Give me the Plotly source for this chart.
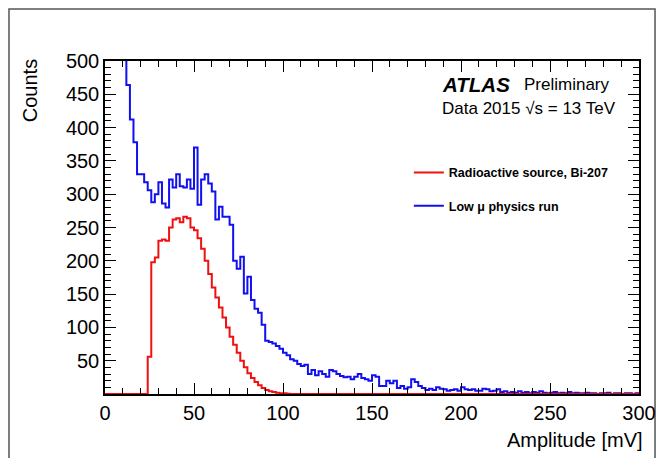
import numpy as np
import plotly.graph_objects as go

# Histogram binning (mV): 150 bins of 2 mV from 0 to 300
bin_width = 2
bin_low = np.arange(0, 300, bin_width)

# Low mu physics run (blue) - counts per bin
low_mu_counts = [
    2000, 1800, 1500, 1200, 900, 600, 464, 412, 378, 330,
    330, 318, 306, 288, 300, 318, 286, 280, 322, 310,
    330, 312, 310, 322, 308, 370, 284, 322, 330, 316,
    304, 262, 281, 266, 266, 254, 200, 188, 206, 151,
    176, 141, 128, 122, 104, 80, 78, 76, 72, 68,
    62, 58, 52, 50, 45, 42, 44, 30, 36, 28,
    34, 30, 26, 36, 34, 30, 27, 25, 26, 22,
    26, 30, 24, 22, 20, 28, 26, 12, 12, 20,
    16, 20, 9, 12, 8, 10, 22, 18, 12, 9,
    6, 8, 6, 10, 8, 7, 5, 6, 7, 5,
    10, 7, 6, 7, 5, 5, 8, 7, 4, 5,
    7, 3, 4, 2, 3, 2, 4, 2, 3, 1,
    3, 2, 4, 2, 1, 2, 3, 1, 2, 1,
    3, 1, 2, 1, 1, 2, 1, 1, 0, 1,
    1, 2, 0, 1, 1, 0, 1, 1, 0, 1,
]

# Radioactive source Bi-207 (red) - counts per bin
source_counts = [
    0, 0, 0, 0, 0, 0, 0, 0, 0, 0,
    0, 0, 56, 198, 205, 230, 232, 230, 250, 262,
    264, 258, 266, 264, 250, 246, 234, 218, 200, 180,
    160, 145, 130, 115, 100, 86, 74, 62, 50, 40,
    31, 24, 18, 13, 9, 6, 4, 3, 2, 1,
    1, 0.5,
] + [0] * 98

font = "Liberation Sans, Arial, Helvetica, sans-serif"


def step_xy(counts):
    # close the last bin so 'hv' draws its top edge
    x = list(bin_low) + [bin_low[-1] + bin_width]
    y = list(counts) + [counts[-1]]
    return x, y


fig = go.Figure()

x, y = step_xy(low_mu_counts)
fig.add_trace(go.Scatter(
    x=x, y=y, mode="lines", line_shape="hv",
    line=dict(color="#1010f0", width=2),
    name="<b>Low \u03bc physics run</b>",
    legendgroup="blue", legendrank=2,
))

x, y = step_xy(source_counts)
fig.add_trace(go.Scatter(
    x=x, y=y, mode="lines", line_shape="hv",
    line=dict(color="#f01010", width=2),
    name="<b>Radioactive source, Bi-207</b>",
    legendgroup="red", legendrank=1,
))

axis_common = dict(
    showline=True, linecolor="black", linewidth=1.5, mirror="ticks",
    ticks="inside", tickcolor="black", tickwidth=1, ticklen=11,
    showgrid=False, zeroline=False,
    ticklabeloverflow="allow", automargin=False,
    tickfont=dict(family=font, size=20, color="black"),
)

fig.update_xaxes(
    range=[0, 300], tick0=0, dtick=50,
    minor=dict(dtick=10, ticks="inside", ticklen=6, tickcolor="black"),
    **axis_common,
)
fig.update_yaxes(
    range=[0, 500], tick0=0, dtick=50,
    tickvals=list(range(50, 501, 50)),
    minor=dict(dtick=10, ticks="inside", ticklen=6, tickcolor="black"),
    **axis_common,
)

annotations = [
    dict(text="Counts", textangle=-90, x=-0.1404, y=1.01, xanchor="center", yanchor="top",
         font=dict(family=font, size=20, color="black")),
    dict(text="Amplitude [mV]", x=1.011, y=-0.138, xanchor="right", yanchor="middle",
         font=dict(family=font, size=20, color="black")),
    dict(text="<b><i>ATLAS</i></b>", x=0.627, y=0.930, xanchor="left", yanchor="middle",
         font=dict(family=font, size=20.5, color="black")),
    dict(text="Preliminary", x=0.781, y=0.930, xanchor="left", yanchor="middle",
         font=dict(family=font, size=17, color="black")),
    dict(text="Data 2015 \u221as = 13 TeV", x=0.627, y=0.858, xanchor="left", yanchor="middle",
         font=dict(family=font, size=17, color="black")),
]
for a in annotations:
    a.update(xref="paper", yref="paper", showarrow=False)

# the page body has an 8px margin, so the figure sits at (8, 8)
fig.update_layout(
    width=648, height=450,
    margin=dict(l=97, r=17, t=53, b=64, autoexpand=False),
    paper_bgcolor="white", plot_bgcolor="white",
    annotations=annotations,
    showlegend=True,
    legend=dict(
        x=0.569, y=0.709, xanchor="left", yanchor="top",
        font=dict(family=font, size=12.5, color="black"),
        bgcolor="rgba(0,0,0,0)", tracegroupgap=14,
    ),
    # thin grey canvas frame round the whole picture
    shapes=[dict(
        type="rect", xref="paper", yref="paper",
        x0=-0.1798, x1=1.03, y0=-0.25, y1=1.156,
        line=dict(color="#555555", width=1.5), layer="below",
    )],
)

fig.write_html("out.html")
